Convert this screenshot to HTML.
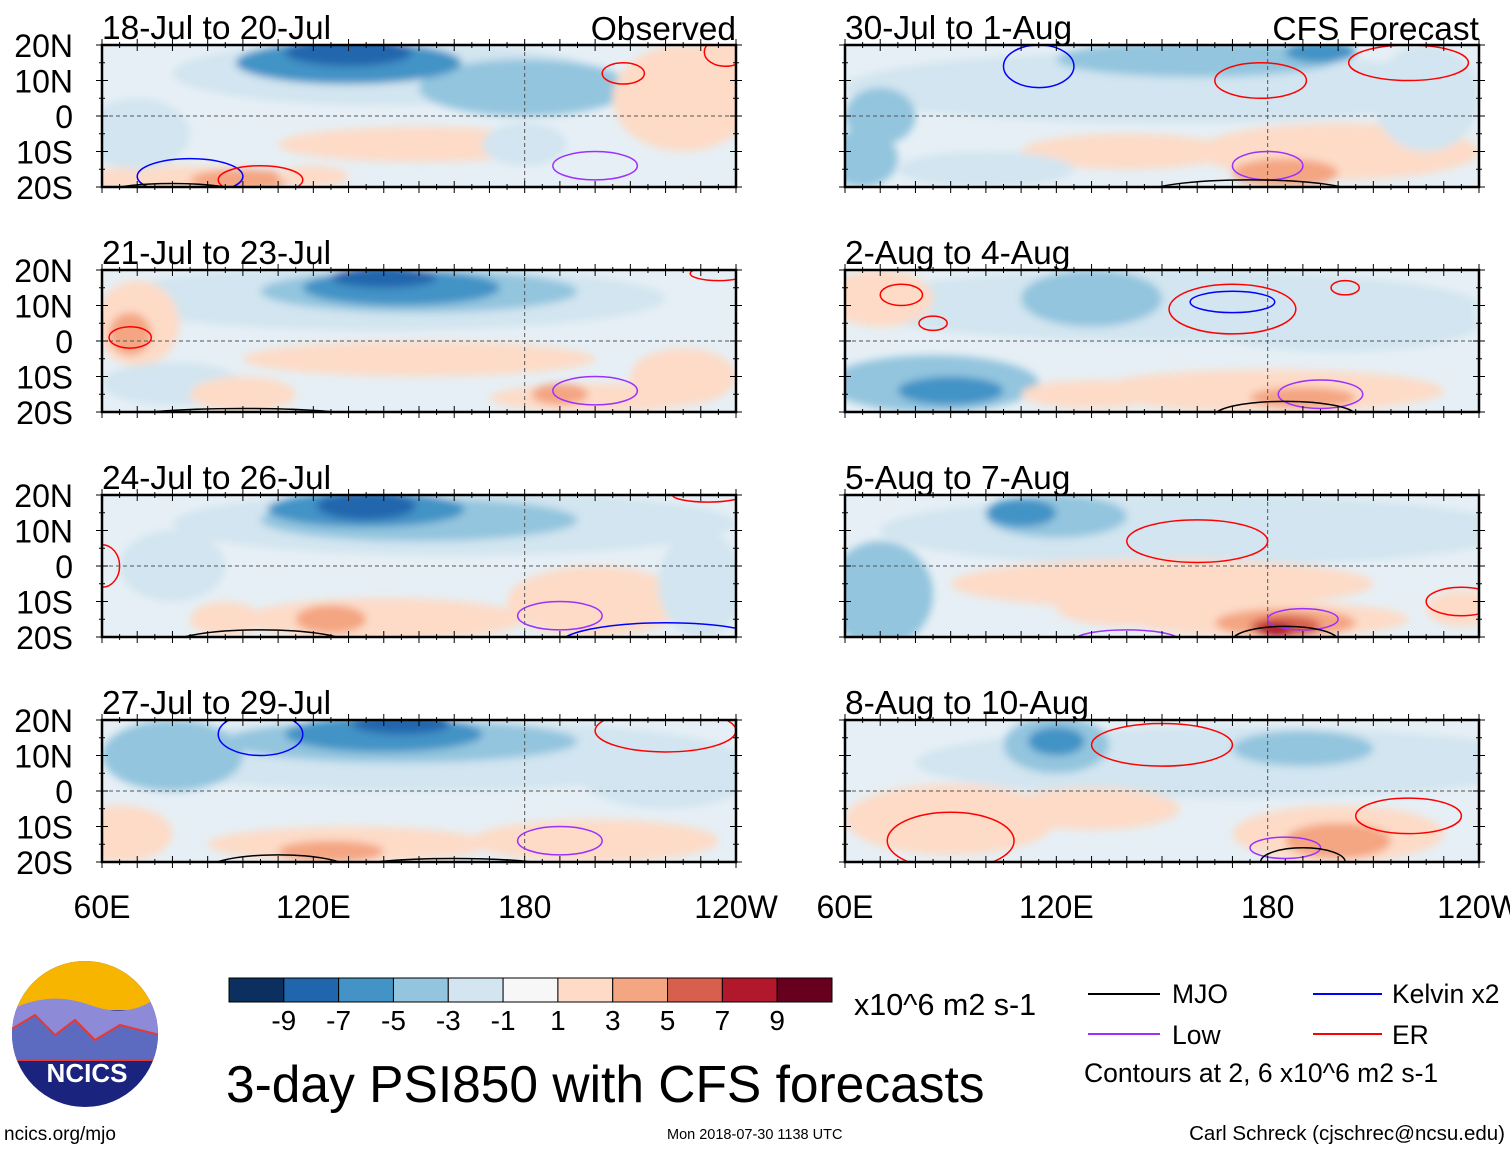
<!DOCTYPE html>
<html><head><meta charset="utf-8"><style>
body{margin:0;background:#fff;}
svg text{font-family:"Liberation Sans",sans-serif;}
</style></head><body>
<svg id="c" width="1510" height="1149" xmlns="http://www.w3.org/2000/svg">
<defs><filter id="bl" x="-50%" y="-50%" width="200%" height="200%"><feGaussianBlur stdDeviation="4"/></filter></defs>
<g id="panels"></g>
<g id="bottom"></g>
</svg>
<script>
const NS="http://www.w3.org/2000/svg";
const levels=[-9,-7,-5,-3,-1,1,3,5,7,9];
const colors=["#0b2f5e","#2066ad","#4393c6","#93c5de","#d2e5f0","#f7f7f7","#fddbc7","#f4a582","#d6604d","#b2182b","#67001f"];
const latTicks=[20,10,0,-10,-20];
const latLabels=["20N","10N","0","10S","20S"];
const lonTicks=[60,120,180,240];
const lonLabels=["60E","120E","180","120W"];
const titles=["18-Jul to 20-Jul","21-Jul to 23-Jul","24-Jul to 26-Jul","27-Jul to 29-Jul","30-Jul to 1-Aug","2-Aug to 4-Aug","5-Aug to 7-Aug","8-Aug to 10-Aug"];
const blobs=[
[[140,12,60,9,-2],[180,8,30,8,-4],[130,15,32,6,-6],[130,18,18,4,-8],[225,5,20,15,2],[150,-8,40,5,2],[80,-18,30,4,2],[100,-18,15,3,4],[120,-17,10,3,3],[235,17,8,5,3],[180,-8,12,6,-2],[70,-5,15,10,-2]],
[[140,12,80,9,-2],[150,14,45,6,-4],[145,15,28,5,-6],[140,18,15,3,-8],[70,5,12,12,2],[68,2,6,6,4],[150,-5,50,5,2],[200,-16,30,4,2],[190,-15,8,3,4],[225,-10,15,8,2],[80,-12,20,6,-2],[100,-15,15,5,2]],
[[160,12,80,9,-2],[150,13,45,6,-4],[135,16,28,5,-6],[135,17,14,4,-8],[80,0,15,10,-2],[200,-10,25,10,2],[140,-15,40,6,2],[125,-15,10,4,4],[95,-15,10,5,2],[230,-5,12,15,-2]],
[[150,10,90,10,-2],[145,14,50,6,-4],[140,16,28,5,-6],[145,19,14,3,-8],[80,10,20,10,-3],[65,-12,15,8,2],[130,-15,40,5,2],[125,-17,15,3,4],[200,-14,35,6,2],[220,5,25,10,-2]],
[[150,8,90,10,-2],[160,16,40,5,-4],[195,18,10,3,-5],[70,0,10,8,-3],[200,-10,40,8,2],[185,-16,15,4,4],[140,-10,30,5,2],[100,-15,25,5,-2],[225,5,15,15,-2],[65,-12,10,8,-3]],
[[150,10,90,10,-2],[130,12,20,8,-4],[200,5,40,8,-2],[85,-12,30,8,-3],[90,-14,15,4,-5],[70,12,15,8,2],[180,-14,50,6,2],[190,-16,15,3,4],[130,-15,20,4,2]],
[[160,10,90,10,-2],[120,14,20,6,-4],[110,15,10,4,-6],[70,-8,15,15,-3],[150,-5,60,7,2],[180,-15,40,5,3],[185,-16,20,4,5],[185,-17,10,3,7],[182,-18,5,2,9],[140,-12,20,5,2],[235,-12,10,5,2]],
[[170,8,90,10,-2],[120,13,15,8,-3],[120,14,8,4,-5],[190,12,20,5,-3],[90,-8,30,10,2],[200,-12,30,8,2],[200,-14,15,5,4],[130,-5,25,6,2]]
];
const lineColors={mjo:"#000",low:"#9b30ff",kelvin:"#0000ff",er:"#ff0000"};
const contours=[
[["er",208,12,6,3],["kelvin",85,-17,15,5],["er",105,-18,12,4],["mjo",80,-22,20,3],["low",200,-14,12,4],["er",237,18,6,4]],
[["er",68,1,6,3],["low",200,-14,12,4],["mjo",100,-22,35,3],["er",235,19,8,2]],
[["er",232,20,10,2],["low",190,-14,12,4],["kelvin",220,-22,30,6],["mjo",105,-22,25,4],["er",60,0,5,6]],
[["kelvin",105,16,12,6],["er",220,17,20,6],["low",190,-14,12,4],["mjo",110,-22,20,4],["mjo",160,-22,30,3]],
[["kelvin",115,14,10,6],["er",178,10,13,5],["er",220,15,17,5],["low",180,-14,10,4],["mjo",175,-22,30,4]],
[["er",76,13,6,3],["er",85,5,4,2],["kelvin",170,11,12,3],["er",170,9,18,7],["er",202,15,4,2],["low",195,-15,12,4],["mjo",185,-21,20,4]],
[["er",160,7,20,6],["low",190,-15,10,3],["mjo",185,-21,15,4],["er",235,-10,10,4],["low",140,-21,15,3]],
[["er",150,13,20,6],["er",90,-14,18,8],["er",220,-7,15,5],["low",185,-16,10,3],["mjo",190,-20,12,4]]
];
function mk(t,a,p){const e=document.createElementNS(NS,t);for(const k in a)e.setAttribute(k,a[k]);(p||null)&&p.appendChild(e);return e;}
function colorOf(v){let i=0;while(i<levels.length&&v>levels[i])i++;return colors[i];}
const PW=634,PH=142;
const panelsG=document.getElementById('panels');
for(let p=0;p<8;p++){
 const x0=p<4?102:845, y0=45+(p%4)*225;
 const X=lon=>x0+(lon-60)/180*PW, Y=lat=>y0+(20-lat)/40*PH;
 const g=mk('g',{},panelsG);
 
 
 const cp=mk('clipPath',{id:'cp'+p},g);mk('rect',{x:x0,y:y0,width:PW,height:PH},cp);
 const inner=mk('g',{'clip-path':'url(#cp'+p+')'},g);
 mk('rect',{x:x0,y:y0,width:PW,height:PH,fill:"#e6eff5"},inner);
 const fg=mk('g',{filter:'url(#bl)'},inner);
 blobs[p].forEach(b=>{const e=mk('ellipse',{cx:X(b[0]),cy:Y(b[1]),rx:b[2]/180*PW,ry:b[3]/40*PH,fill:colorOf(b[4])},fg);
  });
 mk('line',{x1:x0,x2:x0+PW,y1:Y(0),y2:Y(0),stroke:"#555","stroke-dasharray":"4,3","stroke-width":1},inner);
 mk('line',{x1:X(180),x2:X(180),y1:y0,y2:y0+PH,stroke:"#555","stroke-dasharray":"4,3","stroke-width":1},inner);
 contours[p].forEach(c=>{const e=mk('ellipse',{cx:X(c[1]),cy:Y(c[2]),rx:c[3]/180*PW,ry:c[4]/40*PH,fill:"none",stroke:lineColors[c[0]],"stroke-width":1.5},inner);
  });
 mk('rect',{x:x0,y:y0,width:PW,height:PH,fill:"none",stroke:"#000","stroke-width":2.5},g);
 for(let lon=60;lon<=240;lon+=5){const L=lon%10==0?6:3;mk('line',{x1:X(lon),x2:X(lon),y1:y0-L,y2:y0+L,stroke:"#000"},g);mk('line',{x1:X(lon),x2:X(lon),y1:y0+PH-L,y2:y0+PH+L,stroke:"#000"},g);}
 for(let lat=-20;lat<=20;lat+=5){const L=lat%10==0?6:3;mk('line',{x1:x0-L,x2:x0+L,y1:Y(lat),y2:Y(lat),stroke:"#000"},g);mk('line',{x1:x0+PW-L,x2:x0+PW+L,y1:Y(lat),y2:Y(lat),stroke:"#000"},g);}
 const t=mk('text',{x:x0,y:y0-6,"font-size":33.5},g);t.textContent=titles[p];
 
 if(p==0){const o=mk('text',{x:x0+PW,y:y0-5,"font-size":33.5,"text-anchor":"end"},g);o.textContent="Observed";}
 if(p==4){const o=mk('text',{x:x0+PW,y:y0-5,"font-size":33.5,"text-anchor":"end"},g);o.textContent="CFS Forecast";}
 if(p<4){latTicks.forEach((lat,i)=>{const l=mk('text',{x:73,y:Y(lat)+12,"font-size":32,"text-anchor":"end"},g);l.textContent=latLabels[i];
  });}
 if(p%4==3){lonTicks.forEach((lon,i)=>{const l=mk('text',{x:X(lon),y:918,"font-size":32,"text-anchor":"middle"},g);l.textContent=lonLabels[i];
  });}
}
const bg=document.getElementById('bottom');
const cbw=603/colors.length;
colors.forEach((c,i)=>{const r=mk('rect',{x:229+i*cbw,y:978,width:cbw,height:24,fill:c,stroke:"#000","stroke-width":1},bg);
 });
levels.forEach((v,i)=>{const t=mk('text',{x:229+(i+1)*cbw,y:1030,"font-size":28,"text-anchor":"middle"},bg);t.textContent=v;
 });
</script>
<svg style="position:absolute;left:0;top:0" width="1510" height="1149">
<g>
<clipPath id="lc"><circle cx="85" cy="1034" r="73"/></clipPath>
<g clip-path="url(#lc)">
<rect x="10" y="960" width="150" height="150" fill="#1a237e"/>
<rect x="10" y="960" width="150" height="50" fill="#f7b500"/>
<path d="M10 1010 Q50 990 90 1005 T160 995 L160 1040 L10 1040Z" fill="#8d8ad8"/>
<path d="M10 1030 L35 1015 L55 1035 L75 1020 L95 1040 L120 1025 L160 1035 L160 1060 L10 1060Z" fill="#5c6bc0" stroke="#e53935" stroke-width="2"/>
</g>
<text x="87" y="1082" font-size="26" font-weight="bold" fill="#fff" text-anchor="middle" style="font-family:'Liberation Sans',sans-serif">NCICS</text>
</g>
<text x="4" y="1140" font-size="19" style="font-family:'Liberation Sans',sans-serif">ncics.org/mjo</text>
<text x="854" y="1015" font-size="30.5" style="font-family:'Liberation Sans',sans-serif">x10^6 m2 s-1</text>
<text x="226" y="1102" font-size="51.5" style="font-family:'Liberation Sans',sans-serif">3-day PSI850 with CFS forecasts</text>
<text x="667" y="1139" font-size="14.5" style="font-family:'Liberation Sans',sans-serif">Mon 2018-07-30 1138 UTC</text>
<text x="1505" y="1140" font-size="20.5" text-anchor="end" style="font-family:'Liberation Sans',sans-serif">Carl Schreck (cjschrec@ncsu.edu)</text>
<g style="font-family:'Liberation Sans',sans-serif" font-size="26.5">
<line x1="1088" x2="1160" y1="994" y2="994" stroke="#000" stroke-width="2"/><text x="1172" y="1003">MJO</text>
<line x1="1313" x2="1382" y1="994" y2="994" stroke="#0000ff" stroke-width="2"/><text x="1392" y="1003">Kelvin x2</text>
<line x1="1088" x2="1160" y1="1034" y2="1034" stroke="#9b30ff" stroke-width="2"/><text x="1172" y="1044">Low</text>
<line x1="1313" x2="1382" y1="1034" y2="1034" stroke="#ff0000" stroke-width="2"/><text x="1392" y="1044">ER</text>
<text x="1084" y="1082" font-size="26.5">Contours at 2, 6 x10^6 m2 s-1</text>
</g>
</svg>
</body></html>
